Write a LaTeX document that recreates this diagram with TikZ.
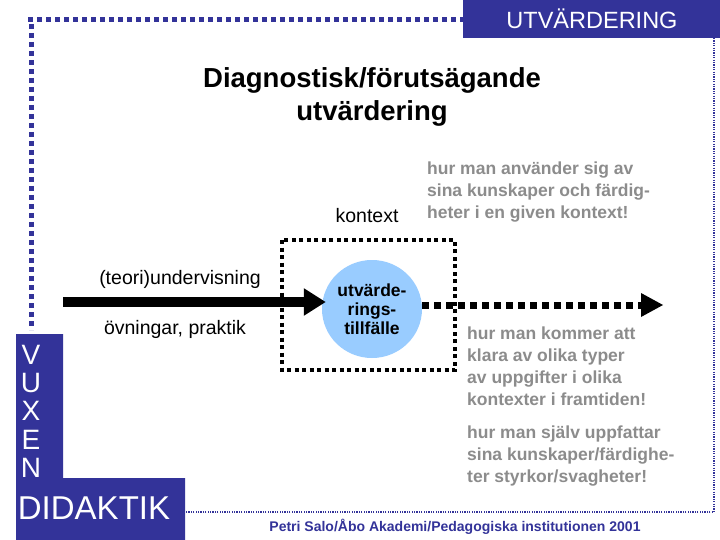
\documentclass[tikz,border=0pt]{standalone}
\usepackage{fontspec}
\setmainfont{Liberation Sans}
\usetikzlibrary{arrows.meta,shapes.geometric}
\definecolor{navy}{HTML}{333399}
\definecolor{lblue}{HTML}{99CCFF}
\definecolor{gtxt}{HTML}{8C8C8C}
\tikzset{
 bigdots/.style={navy,line width=5pt,dash pattern=on 5pt off 4pt},
 finedots/.style={navy,line width=1.2pt,dash pattern=on 1.2pt off 1.2pt},
 boxdots/.style={black,line width=4pt,dash pattern=on 4pt off 3.5pt},
 graytext/.style={gtxt,font=\fontsize{17.5}{22}\selectfont\bfseries,align=left,anchor=north west,inner sep=0pt},
 plain/.style={font=\fontsize{19.5}{22}\selectfont,inner sep=0pt},
 vux/.style={white,font=\fontsize{28}{28}\selectfont,inner sep=0pt}
}
\begin{document}
\begin{tikzpicture}[x=1pt,y=-1pt]
\useasboundingbox (0,0) rectangle (720,540);
\fill[white] (0,0) rectangle (720,540);
% borders
\draw[bigdots] (28,20) -- (465,20);
\draw[bigdots] (31,24) -- (31,330);
\draw[finedots] (714,38) -- (714,512) -- (185,512);
\fill[navy] (463,0) rectangle (720,38);
\node[white,font=\fontsize{23.5}{23}\selectfont] (hdr) at (592,19) {UTVÄRDERING};
\fill[navy] (16,334) -- (63,334) -- (63,478) -- (185,478) -- (185,540) -- (16,540) -- cycle;
\node[vux] (v) at (31,355) {V};
\node[vux] (u) at (31,383) {U};
\node[vux] (x) at (31,411) {X};
\node[vux] (e) at (31,440) {E};
\node[vux] (n) at (31,468) {N};
\node[vux,font=\fontsize{33}{33}\selectfont] (did) at (94,508) {DIDAKTIK};
% title
\node[font=\fontsize{27.5}{33}\selectfont\bfseries,align=center] (title) at (372,97) {Diagnostisk/förutsägande\\utvärdering};
\node[plain] (kontext) at (367,216) {kontext};
\node[graytext] (t1) at (427,162) {hur man använder sig av\\sina kunskaper och färdig-\\heter i en given kontext!};
% box and ellipse
\draw[boxdots] (282,240) rectangle (455,370);
\node[ellipse,fill=lblue,minimum width=100pt,minimum height=98pt,align=center,inner sep=0pt,font=\fontsize{17.5}{19}\selectfont\bfseries] (ev) at (372,309) {utvärde-\\rings-\\tillfälle};
\coordinate (as) at (63,302);
\draw[line width=10pt,-{Triangle[length=22pt,width=26pt]}] (as) -- ([xshift=4pt]ev.west |- as);
\coordinate (ae) at (663,305);
\draw[boxdots,line width=7pt,dash pattern=on 7pt off 5pt] (ev.east |- ae) -- ([xshift=-18pt]ae);
\fill (ae) -- ++(-22,-12) -- ++(0,24) -- cycle;
\node[plain] (teori) at (180,279) {(teori)undervisning};
\node[plain] (ovn) at (175,329) {övningar, praktik};
\node[graytext] (t2) at (467,327) {hur man kommer att\\klara av olika typer\\av uppgifter i olika\\kontexter i framtiden!};
\node[graytext] (t3) at (467,426) {hur man själv uppfattar\\sina kunskaper/färdighe-\\ter styrkor/svagheter!};
\node[navy,font=\fontsize{14}{14}\selectfont\bfseries] (foot) at (455,527) {Petri Salo/Åbo Akademi/Pedagogiska institutionen 2001};
\end{tikzpicture}
\end{document}
